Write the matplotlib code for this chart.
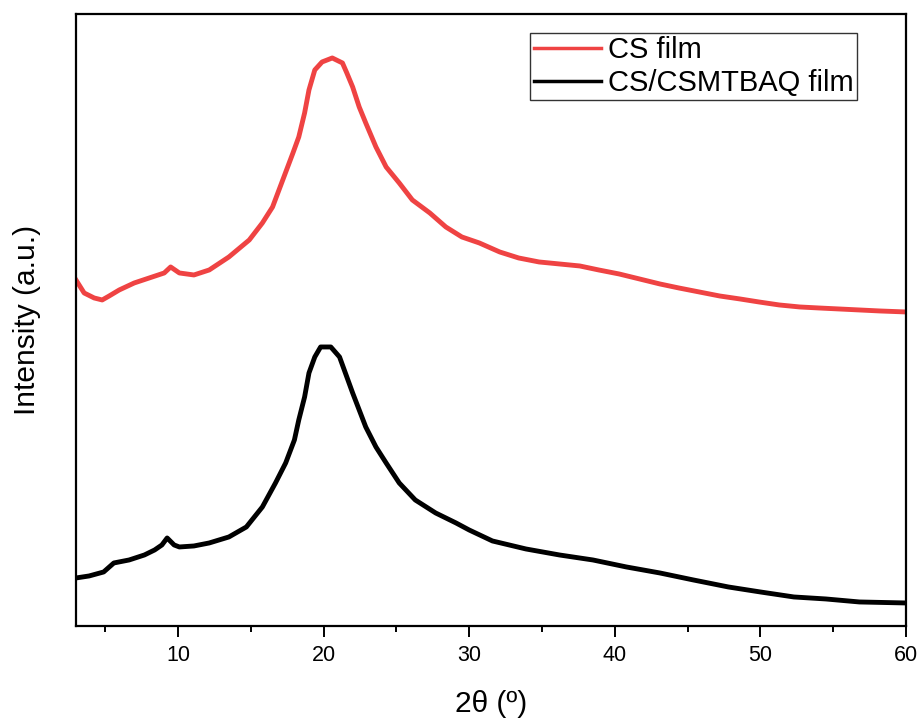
import matplotlib
matplotlib.use("Agg")
import matplotlib.pyplot as plt
from matplotlib.ticker import MultipleLocator

plt.rcParams['font.family'] = ['Liberation Sans', 'DejaVu Sans']

# 2theta (deg) and intensity (a.u.)
cs_x = [3.0, 3.56, 4.25, 4.8, 5.28, 5.97, 7.0, 8.03, 9.06, 9.5, 10.1, 11.1, 12.15, 13.5,
        14.9, 15.8, 16.5, 17.2, 17.9, 18.3, 18.7, 19.0, 19.4, 19.9, 20.6, 21.3, 21.6,
        22.0, 22.45, 22.9, 23.6, 24.3, 25.2, 26.1, 27.3, 28.4, 29.5,
        30.7, 32.1, 33.4, 34.8, 36.2, 37.6, 38.9, 40.3, 41.7, 43.1, 44.4, 45.8,
        47.2, 48.6, 49.9, 51.3, 52.7, 54.0, 55.4, 56.8, 58.2, 60.0]
cs_y = [346, 333, 328, 326, 330, 336, 343, 348, 353, 359, 353, 351, 356, 369,
        386, 403, 419, 446, 473, 489, 513, 536, 556, 564, 568, 563, 553,
        539, 519, 503, 479, 459, 443, 426, 413, 399, 389,
        383, 374, 368, 364, 362, 360, 356, 352, 347, 342, 338, 334,
        330, 327, 324, 321, 319, 318, 317, 316, 315, 314]

blend_x = [3.0, 3.9, 4.9, 5.6, 6.65, 7.7, 8.4, 8.9, 9.26, 9.74, 10.1, 11.1, 12.15, 13.5,
           14.7, 15.8, 16.7, 17.4, 18.0, 18.3, 18.7, 19.0, 19.4, 19.8, 20.5, 21.1, 21.5,
           22.0, 22.45, 22.9, 23.6, 24.3, 25.2, 26.3, 27.7, 29.1, 30.0,
           31.6, 33.9, 36.2, 38.5, 40.8, 43.1, 45.4, 47.8, 50.0, 52.3, 54.5, 56.8, 60.0]
blend_y = [48, 50, 54, 63, 66, 71, 76, 81, 88, 81, 79, 80, 83, 89,
           99, 119, 143, 163, 186, 206, 229, 253, 269, 279, 279, 269, 253,
           233, 216, 199, 179, 163, 143, 126, 113, 103, 96,
           85, 77, 71, 66, 59, 53, 46, 39, 34, 29, 27, 24, 23]

labels = ['CS film', 'CS/CSMTBAQ film']
colors = ['#ef4343', '#000000']

fig = plt.figure(figsize=(9.21, 7.2), dpi=100)
ax = fig.add_axes([0.0825, 0.1306, 0.9012, 0.85])

ax.plot(cs_x, cs_y, color=colors[0], lw=3.5, label=labels[0])
ax.plot(blend_x, blend_y, color=colors[1], lw=3.5, label=labels[1])

ax.set_xlim(3, 60)
ax.set_ylim(0, 612)
ax.xaxis.set_major_locator(MultipleLocator(10))
ax.xaxis.set_minor_locator(MultipleLocator(5))
ax.set_yticks([])
ax.tick_params(axis='x', which='major', direction='out', length=8, width=1.4,
               labelsize=15.5, pad=6, top=False)
ax.tick_params(axis='x', which='minor', direction='out', length=4.5, width=1.4, top=False)
for s in ax.spines.values():
    s.set_linewidth(1.6)

ax.set_xlabel('2θ (º)', fontsize=21.5, labelpad=17)
ax.set_ylabel('Intensity (a.u.)', fontsize=21.5, labelpad=25)

leg = ax.legend(loc='upper right', bbox_to_anchor=(0.941, 0.969), fontsize=21,
                frameon=True, fancybox=False, edgecolor='#333333', framealpha=1,
                handlelength=2.3, handletextpad=0.25, borderpad=0.12, labelspacing=0.15,
                borderaxespad=0)
leg.get_frame().set_linewidth(1.0)
for h in leg.get_lines():
    h.set_linewidth(2.5)

fig.savefig('out.png', dpi=100)
